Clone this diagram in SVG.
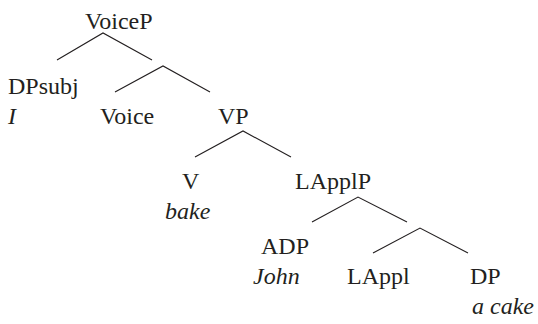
<svg xmlns="http://www.w3.org/2000/svg" width="538" height="324" viewBox="0 0 538 324">
<style>
text{font-family:"Liberation Serif","Times New Roman",serif;font-size:24px;fill:#231f20}
.i{font-style:italic}
.e{stroke:#231f20;stroke-width:1.1;fill:none}
</style>
<rect width="538" height="324" fill="#fff"/>
<g id="connectors">
<polyline class="e" points="57,60 103,33 152,60"/>
<polyline class="e" points="115,92 163,66 210,92"/>
<polyline class="e" points="195,157 243,131 291,157"/>
<polyline class="e" points="312,222 358,197 407,222"/>
<polyline class="e" points="373,253 420,228 468,253"/>
</g>
<g id="VoiceP"><text x="85" y="29">VoiceP</text></g>
<g id="DPsubj"><text x="8" y="94">DPsubj</text><text class="i" x="8" y="124">I</text></g>
<g id="Voice"><text x="100" y="124">Voice</text></g>
<g id="VP"><text x="218" y="124">VP</text></g>
<g id="V"><text x="182" y="189">V</text><text class="i" x="165" y="219">bake</text></g>
<g id="LApplP"><text x="295" y="189">LApplP</text></g>
<g id="ADP"><text x="261" y="254">ADP</text><text class="i" x="253" y="284">John</text></g>
<g id="LAppl"><text x="347" y="284">LAppl</text></g>
<g id="DP"><text x="470" y="284">DP</text><text class="i" x="472" y="314">a cake</text></g>
</svg>
